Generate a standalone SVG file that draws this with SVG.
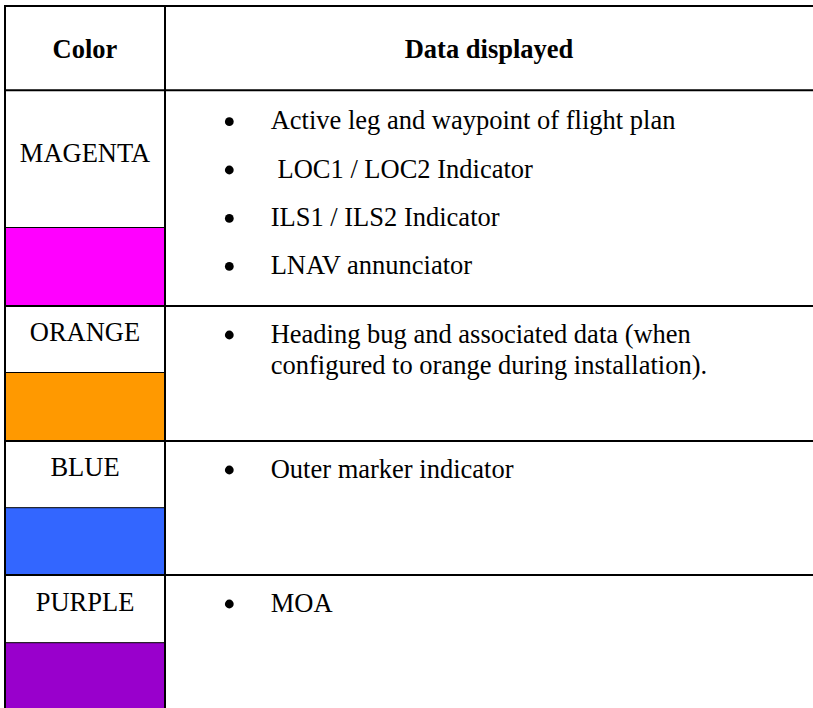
<svg xmlns="http://www.w3.org/2000/svg" width="813" height="708" viewBox="0 0 813 708">
  <style>
    .cell { font-family: "Liberation Serif", "Times New Roman", serif; font-size: 26.5px; fill: #000; }
    .head { font-weight: bold; text-anchor: middle; }
    .name { text-anchor: middle; }
    .rule { stroke: #000; stroke-width: 2; fill: none; }
    .cap { stroke: #000; stroke-width: 1; }
    .dot { fill: #000; }
  </style>
  <rect width="813" height="708" fill="#fff"/>

  <!-- colour swatches -->
  <g id="swatches">
    <rect x="5" y="227.5" width="160" height="78.5" fill="#FF00FF"/>
    <line class="cap" x1="5" y1="227.5" x2="165" y2="227.5"/>
    <rect x="5" y="372.5" width="160" height="68.5" fill="#FF9900"/>
    <line class="cap" x1="5" y1="372.5" x2="165" y2="372.5"/>
    <rect x="5" y="507.7" width="160" height="67.3" fill="#3366FF"/>
    <line class="cap" x1="5" y1="507.7" x2="165" y2="507.7"/>
    <rect x="5" y="642.7" width="160" height="66" fill="#9900CC"/>
    <line class="cap" x1="5" y1="642.7" x2="165" y2="642.7"/>
  </g>

  <!-- table rules -->
  <g id="grid">
    <line class="rule" x1="4" y1="6" x2="813" y2="6"/>
    <line class="rule" x1="5" y1="5" x2="5" y2="708"/>
    <line class="rule" x1="165" y1="5" x2="165" y2="708"/>
    <line class="rule" x1="4" y1="90.3" x2="813" y2="90.3"/>
    <line class="rule" x1="4" y1="306" x2="813" y2="306"/>
    <line class="rule" x1="4" y1="441" x2="813" y2="441"/>
    <line class="rule" x1="4" y1="575" x2="813" y2="575"/>
  </g>

  <g id="header" class="cell">
    <text class="head" x="85" y="58">Color</text>
    <text class="head" x="489" y="58">Data displayed</text>
  </g>

  <g id="row-magenta" class="cell">
    <text class="name" x="85" y="162">MAGENTA</text>
    <circle class="dot" cx="229.3" cy="121.7" r="4.4"/>
    <text x="270.7" y="129.3">Active leg and waypoint of flight plan</text>
    <circle class="dot" cx="229.3" cy="170" r="4.4"/>
    <text x="277.5" y="177.6">LOC1 / LOC2 Indicator</text>
    <circle class="dot" cx="229.3" cy="218.4" r="4.4"/>
    <text x="270.7" y="226">ILS1 / ILS2 Indicator</text>
    <circle class="dot" cx="229.3" cy="266.4" r="4.4"/>
    <text x="270.7" y="274">LNAV annunciator</text>
  </g>

  <g id="row-orange" class="cell">
    <text class="name" x="85" y="340.7">ORANGE</text>
    <circle class="dot" cx="229.3" cy="335" r="4.4"/>
    <text x="270.7" y="342.7">Heading bug and associated data (when</text>
    <text x="270.7" y="373.5">configured to orange during installation).</text>
  </g>

  <g id="row-blue" class="cell">
    <text class="name" x="85" y="476">BLUE</text>
    <circle class="dot" cx="229.3" cy="470" r="4.4"/>
    <text x="270.7" y="477.7">Outer marker indicator</text>
  </g>

  <g id="row-purple" class="cell">
    <text class="name" x="85" y="610.7">PURPLE</text>
    <circle class="dot" cx="229.3" cy="604" r="4.4"/>
    <text x="270.7" y="611.5">MOA</text>
  </g>
</svg>
